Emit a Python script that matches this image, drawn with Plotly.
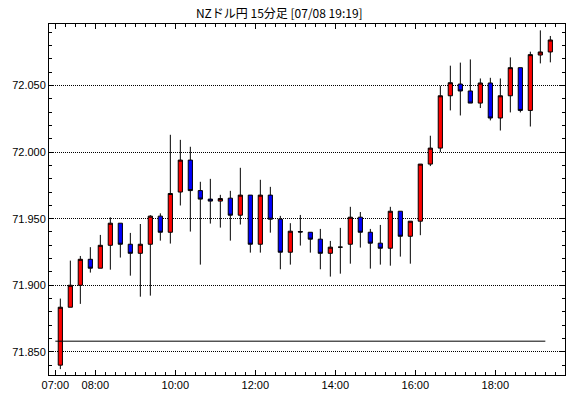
import pandas as pd
import plotly.graph_objects as go

title_text = "NZドル円 15分足 [07/08 19:19]"
start_time = "2025-07-08 07:00"
n_bars = 50
times = pd.date_range(start_time, periods=n_bars, freq="15min")

opens = [71.840, 71.8835, 71.900, 71.9195, 71.9128, 71.930, 71.9466, 71.9308, 71.924, 71.9308,
         71.9519, 71.9398, 71.970, 71.994, 71.9711, 71.9647, 71.9632, 71.9654, 71.9526, 71.9677,
         71.9308, 71.9677, 71.9496, 71.9248, 71.9403, 71.9398, 71.9346, 71.924, 71.9286, 71.9308,
         71.9511, 71.9398, 71.9316, 71.9278, 71.9556, 71.9368, 71.9481, 71.991, 72.003, 72.0423,
         72.0511, 72.0459, 72.0368, 72.0519, 72.0256, 72.0423, 72.0634, 72.0313, 72.0729, 72.0752]
highs = [71.890, 71.9185, 71.922, 71.9286, 71.9378, 71.951, 71.9466, 71.9393, 71.946, 71.9526,
         71.954, 72.013, 72.0092, 72.004, 71.9777, 71.9799, 71.9679, 71.9709, 71.9882, 71.9677,
         71.9792, 71.9739, 71.9521, 71.9466, 71.9528, 71.9398, 71.9423, 71.9333, 71.9431, 71.9589,
         71.955, 71.9423, 71.9453, 71.9589, 71.9556, 71.9481, 71.991, 72.0123, 72.0498, 72.0649,
         72.0672, 72.0696, 72.0553, 72.0558, 72.0553, 72.0711, 72.0634, 72.0754, 72.0914, 72.0872]
lows = [71.837, 71.8835, 71.886, 71.9095, 71.9128, 71.9117, 71.9208, 71.9072, 71.8914, 71.8922,
        71.9335, 71.9313, 71.9599, 71.9403, 71.9155, 71.9463, 71.9433, 71.9335, 71.9456, 71.9245,
        71.9245, 71.9395, 71.912, 71.9155, 71.9298, 71.9245, 71.912, 71.9065, 71.9087, 71.9162,
        71.9283, 71.9125, 71.9155, 71.9147, 71.9215, 71.9162, 71.9376, 71.9895, 72.000, 72.0313,
        72.0275, 72.0368, 72.0331, 72.0238, 72.0162, 72.0298, 72.0298, 72.0192, 72.0666, 72.0674]
closes = [71.8835, 71.900, 71.9195, 71.9128, 71.930, 71.9466, 71.9308, 71.924, 71.9308, 71.9519,
          71.9398, 71.9689, 71.994, 71.9711, 71.9647, 71.9632, 71.9651, 71.9526, 71.9677, 71.9308,
          71.9677, 71.9496, 71.9248, 71.9406, 71.9400, 71.9346, 71.924, 71.9286, 71.9286, 71.9511,
          71.9398, 71.9316, 71.9278, 71.9556, 71.9368, 71.9481, 71.991, 72.003, 72.0423, 72.0521,
          72.0459, 72.0368, 72.0519, 72.0256, 72.0423, 72.0634, 72.0313, 72.0732, 72.0752, 72.0842]

ref_level = 71.858
x_ticks = ["07:00", "08:00", "10:00", "12:00", "14:00", "16:00", "18:00"]
x_range = ["2025-07-08 06:50:30", "2025-07-08 19:44:30"]
y_range = [71.8326, 72.0962]

fig = go.Figure()
fig.add_trace(go.Candlestick(
    x=times, open=opens, high=highs, low=lows, close=closes,
    xperiod=15 * 60 * 1000, xperiodalignment="middle",
    increasing=dict(fillcolor="#ff0000", line=dict(color="black", width=1)),
    decreasing=dict(fillcolor="#0000ff", line=dict(color="black", width=1)),
    whiskerwidth=0, showlegend=False, hoverinfo="skip",
))

fig.add_shape(type="line", xref="x", yref="y",
              x0=times[0], x1=times[-1], y0=ref_level, y1=ref_level,
              line=dict(color="black", width=1))

tickvals = [pd.Timestamp("2025-07-08 " + t) for t in x_ticks]
axis_font = dict(family="Liberation Sans, Arial, sans-serif", size=11, color="black")

fig.update_layout(
    width=570, height=398,
    margin=dict(l=49, r=5, t=24, b=23),
    paper_bgcolor="white", plot_bgcolor="white",
    boxgap=0.4,
    title=dict(text=title_text, x=0.49, xanchor="center", y=1 - 14 / 398, yanchor="middle",
               yref="container",
               font=dict(family="Noto Sans CJK JP, sans-serif", size=12, color="black")),
    xaxis=dict(
        type="date", range=x_range, rangeslider=dict(visible=False),
        tickmode="array", tickvals=tickvals, ticktext=x_ticks,
        ticks="inside", ticklen=5, tickcolor="black", tickwidth=1,
        showline=True, linecolor="black", linewidth=1, mirror="allticks",
        showgrid=False, zeroline=False, tickfont=axis_font,
        minor=dict(dtick=15 * 60 * 1000, tick0=start_time, ticks="inside", ticklen=3,
                   tickcolor="black", showgrid=False),
    ),
    yaxis=dict(
        range=y_range, tick0=71.85, dtick=0.05, tickformat=".3f",
        ticks="inside", ticklen=5, tickcolor="black", tickwidth=1,
        showline=True, linecolor="black", linewidth=1, mirror="allticks",
        showgrid=True, gridcolor="black", gridwidth=1, griddash="1px,1px",
        zeroline=False, tickfont=axis_font,
        minor=dict(dtick=0.01, tick0=71.85, ticks="inside", ticklen=3,
                   tickcolor="black", showgrid=False),
    ),
)

# remove the browser's default 8px page margin so the figure fills the window
fig.write_html("out.html", config={"displayModeBar": False},
               post_script="document.body.style.margin='0';")
